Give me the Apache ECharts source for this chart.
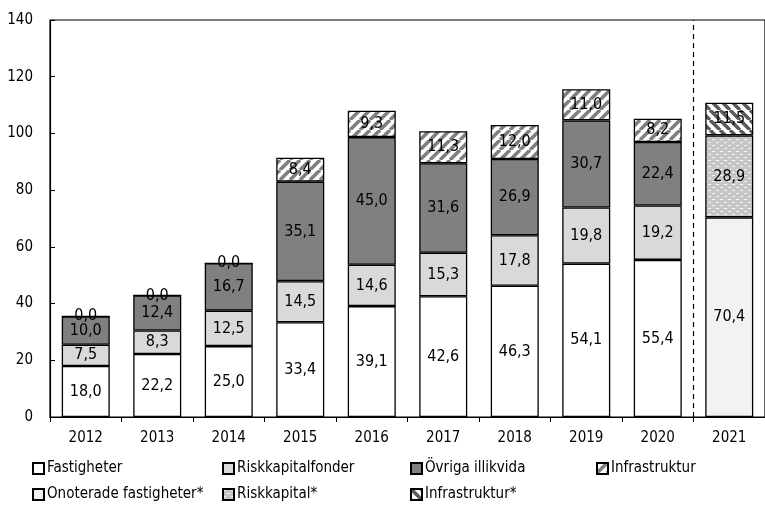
<!DOCTYPE html>
<html>
<head>
<meta charset="utf-8">
<script src="https://cdn.jsdelivr.net/npm/echarts@6/dist/echarts.min.js"></script>
<style>
  html, body { margin: 0; padding: 0; background: #fff; }
  #main { width: 765px; height: 509px; }
</style>
</head>
<body>
<div id="main"></div>
<script>
var FONT = '"Liberation Sans Narrow", "DejaVu Sans Condensed", sans-serif'

var years = ['2012', '2013', '2014', '2015', '2016', '2017', '2018', '2019', '2020', '2021']
var yTicks = [0, 20, 40, 60, 80, 100, 120, 140]

var fastigheter = [18.0, 22.2, 25.0, 33.4, 39.1, 42.6, 46.3, 54.1, 55.4, null]
var riskkapitalfonder = [7.5, 8.3, 12.5, 14.5, 14.6, 15.3, 17.8, 19.8, 19.2, null]
var ovrigaIllikvida = [10.0, 12.4, 16.7, 35.1, 45.0, 31.6, 26.9, 30.7, 22.4, null]
var infrastruktur = [0.0, 0.0, 0.0, 8.4, 9.3, 11.3, 12.0, 11.0, 8.2, null]
var onoteradeFast = [null, null, null, null, null, null, null, null, null, 70.4]
var riskkapitalStar = [null, null, null, null, null, null, null, null, null, 28.9]
var infraStar = [null, null, null, null, null, null, null, null, null, 11.5]

// fill patterns
function stripes(color, dir) {
  var c = document.createElement('canvas')
  c.width = 10; c.height = 10
  var g = c.getContext('2d')
  g.fillStyle = '#fff'
  g.fillRect(0, 0, 10, 10)
  g.strokeStyle = color
  g.lineWidth = 3.5
  for (var k = -2; k <= 2; k++) {
    g.beginPath()
    if (dir > 0) {
      g.moveTo(k * 10, 10); g.lineTo(k * 10 + 10, 0)
    } else {
      g.moveTo(k * 10, 0); g.lineTo(k * 10 + 10, 10)
    }
    g.stroke()
  }
  return { image: c, repeat: 'repeat' }
}

function dots() {
  var c = document.createElement('canvas')
  c.width = 8; c.height = 6
  var g = c.getContext('2d')
  g.fillStyle = '#c6c6c6'
  g.fillRect(0, 0, 8, 6)
  g.fillStyle = '#f4f4f4'
  g.fillRect(0, 1, 3, 1)
  g.fillRect(4, 4, 3, 1)
  return { image: c, repeat: 'repeat' }
}

function fmt(p) {
  if (p.value == null) return ''
  return p.value.toFixed(1).replace('.', ',')
}

function bar(name, data, color) {
  return {
    name: name,
    type: 'bar',
    stack: 'tot',
    data: data,
    barWidth: 48,
    itemStyle: { color: color, borderColor: '#000', borderWidth: 1.3 },
    label: {
      show: true,
      position: 'inside',
      formatter: fmt,
      color: '#000',
      fontFamily: FONT,
      fontSize: 16
    },
    emphasis: { disabled: true }
  }
}

var names = ['Fastigheter', 'Riskkapitalfonder', 'Övriga illikvida', 'Infrastruktur',
  'Onoterade fastigheter*', 'Riskkapital*', 'Infrastruktur*']
var legendX = [32, 222, 410, 596, 32, 222, 410]
var legendY = [461, 461, 461, 461, 487, 487, 487]

var legends = names.map(function (n, i) {
  return {
    data: [n],
    left: legendX[i],
    top: legendY[i],
    itemWidth: 11,
    itemHeight: 11,
    itemGap: 0,
    icon: 'rect',
    padding: 0,
    selectedMode: false,
    textStyle: { fontFamily: FONT, fontSize: 15, color: '#000', padding: [0, 0, 0, -2] }
  }
})

var series = [
  bar(names[0], fastigheter, '#ffffff'),
  bar(names[1], riskkapitalfonder, '#d9d9d9'),
  bar(names[2], ovrigaIllikvida, '#808080'),
  bar(names[3], infrastruktur, stripes('#7f7f7f', 1)),
  bar(names[4], onoteradeFast, '#f2f2f2'),
  bar(names[5], riskkapitalStar, dots()),
  bar(names[6], infraStar, stripes('#5a5a5a', -1)),
  {
    type: 'line',
    xAxisIndex: 1,
    data: [],
    silent: true,
    markLine: {
      symbol: 'none',
      silent: true,
      label: { show: false },
      lineStyle: { color: '#000', type: [5, 4], width: 1.2 },
      data: [{ xAxis: 9 }]
    }
  }
]

var chart = echarts.init(document.getElementById('main'))
chart.setOption({
  animation: false,
  backgroundColor: '#fff',
  grid: {
    left: 50, top: 20, width: 720, height: 397,
    show: true, borderColor: '#000', borderWidth: 1.2, backgroundColor: 'transparent'
  },
  legend: legends,
  xAxis: [{
    type: 'category',
    data: years,
    axisLine: { lineStyle: { color: '#000', width: 1.2 } },
    axisTick: { show: true, length: 5, lineStyle: { color: '#000' } },
    axisLabel: { color: '#000', fontFamily: FONT, fontSize: 15, margin: 14 }
  }, {
    type: 'value',
    min: 0,
    max: 10,
    show: false
  }],
  yAxis: {
    type: 'value',
    min: yTicks[0],
    max: yTicks[yTicks.length - 1],
    interval: 20,
    splitLine: { show: false },
    axisLine: { show: true, lineStyle: { color: '#000', width: 1.2 } },
    axisTick: { show: true, inside: true, length: 5, lineStyle: { color: '#000' } },
    axisLabel: { color: '#000', fontFamily: FONT, fontSize: 15, margin: 17 }
  },
  series: series
})
</script>
</body>
</html>
